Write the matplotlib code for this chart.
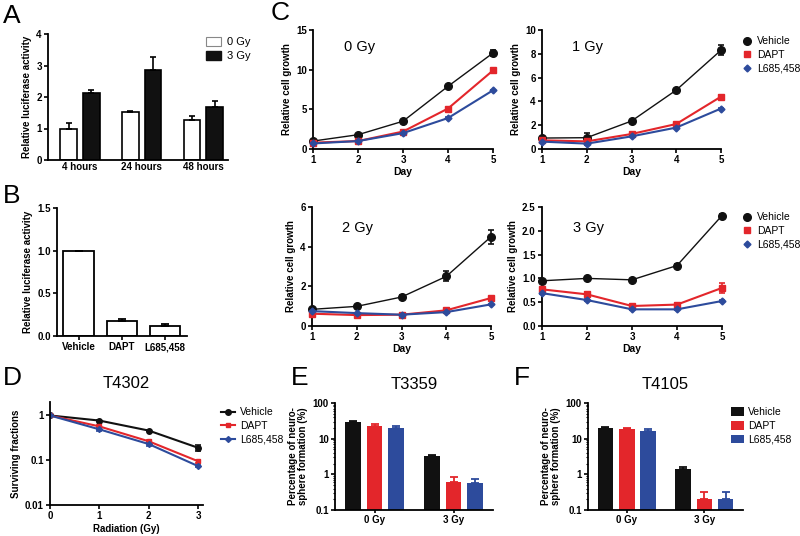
import numpy as np
import matplotlib
matplotlib.use("Agg")
import matplotlib.pyplot as plt
from matplotlib.patches import Patch
from matplotlib.lines import Line2D

plt.rcParams["font.family"] = ["Liberation Sans", "DejaVu Sans"]

# ---- data ----
# panel A
a_groups = ["4 hours", "24 hours", "48 hours"]
a_0gy = [1.0, 1.52, 1.27]
a_0gy_err = [0.18, 0.03, 0.12]
a_3gy = [2.13, 2.87, 1.68]
a_3gy_err = [0.08, 0.40, 0.18]

# panel B
b_drugs = ["Vehicle", "DAPT", "L685,458"]
b_vals = [1.0, 0.18, 0.12]
b_err = [0.0, 0.02, 0.02]

# panel C
days = [1, 2, 3, 4, 5]
c_doses = ["0 Gy", "1 Gy", "2 Gy", "3 Gy"]
veh_c = [[1.0, 1.8, 3.5, 7.9, 12.1],
         [0.92, 0.95, 2.35, 4.95, 8.3],
         [0.84, 0.99, 1.46, 2.5, 4.5],
         [0.95, 1.0, 0.97, 1.27, 2.32]]
veh_c_err = [[0.1, 0.1, 0.15, 0.2, 0.4],
             [0.1, 0.4, 0.1, 0.1, 0.4],
             [0.05, 0.05, 0.1, 0.25, 0.35],
             [0.02, 0.02, 0.02, 0.03, 0.03]]
dapt_c = [[0.8, 1.0, 2.2, 5.1, 9.9],
          [0.73, 0.64, 1.26, 2.1, 4.4],
          [0.62, 0.55, 0.57, 0.79, 1.41],
          [0.77, 0.665, 0.42, 0.45, 0.8]]
dapt_c_err = [[0.05, 0.05, 0.1, 0.1, 0.1],
              [0.05, 0.05, 0.05, 0.05, 0.1],
              [0.03, 0.03, 0.03, 0.05, 0.05],
              [0.02, 0.04, 0.03, 0.03, 0.1]]
l685_c = [[0.7, 1.0, 2.0, 3.9, 7.4],
          [0.62, 0.45, 1.06, 1.8, 3.4],
          [0.75, 0.65, 0.57, 0.7, 1.09],
          [0.69, 0.545, 0.35, 0.35, 0.525]]
l685_c_err = [[0.05, 0.05, 0.05, 0.1, 0.1],
              [0.05, 0.15, 0.05, 0.05, 0.05],
              [0.03, 0.03, 0.03, 0.03, 0.03],
              [0.02, 0.02, 0.02, 0.02, 0.02]]
c_yticks = [[0, 5, 10, 15], [0, 2, 4, 6, 8, 10], [0, 2, 4, 6],
            [0.0, 0.5, 1.0, 1.5, 2.0, 2.5]]

# panel D
radiation = [0, 1, 2, 3]
d_veh = [1.0, 0.77, 0.46, 0.19]
d_veh_err = [0.0, 0.03, 0.02, 0.025]
d_dapt = [1.0, 0.57, 0.265, 0.095]
d_dapt_err = [0.0, 0.03, 0.015, 0.006]
d_l685 = [1.0, 0.49, 0.23, 0.074]
d_l685_err = [0.0, 0.04, 0.02, 0.005]

# panels E and F
ef_groups = ["0 Gy", "3 Gy"]
e_veh = [28.6, 3.3]
e_veh_err = [3.5, 0.25]
e_dapt = [23.0, 0.62]
e_dapt_err = [3.0, 0.24]
e_l685 = [20.0, 0.58]
e_l685_err = [2.5, 0.16]
f_veh = [19.8, 1.39]
f_veh_err = [1.0, 0.18]
f_dapt = [18.3, 0.21]
f_dapt_err = [1.0, 0.11]
f_l685 = [16.0, 0.21]
f_l685_err = [3.0, 0.11]

RED = "#e3262b"
BLUE = "#2d4b9c"
BLACK = "#111111"

W, H = 800, 536
fig = plt.figure(figsize=(8, 5.36), dpi=100)


def px_axes(l, t, r, b):
    return fig.add_axes([l / W, 1 - b / H, (r - l) / W, (b - t) / H])


def style(ax, xtick_len=3):
    for s in ["top", "right"]:
        ax.spines[s].set_visible(False)
    for s in ["left", "bottom"]:
        ax.spines[s].set_linewidth(1.3)
    ax.tick_params(width=1.2, length=3, labelsize=7, pad=1.5)
    ax.tick_params(axis="x", length=xtick_len)
    for lab in ax.get_xticklabels() + ax.get_yticklabels():
        lab.set_fontweight("bold")


def letter(x, y, s):
    fig.text(x / W, 1 - y / H, s, fontsize=19, ha="left", va="top")


# ---- A ----
ax = px_axes(48, 34, 228, 160)
x = np.arange(len(a_groups))
bw = 0.27
ax.bar(x - 0.185, a_0gy, bw, color="white", edgecolor="black", lw=1.2,
       yerr=[[0] * 3, a_0gy_err], capsize=2.5, error_kw=dict(lw=1.2, capthick=1.2))
ax.bar(x + 0.185, a_3gy, bw, color=BLACK, edgecolor="black", lw=1.2,
       yerr=[[0] * 3, a_3gy_err], capsize=2.5, error_kw=dict(lw=1.2, capthick=1.2))
ax.set_xlim(-0.52, 2.4)
ax.set_ylim(0, 4)
ax.set_yticks([0, 1, 2, 3, 4])
ax.set_xticks(x)
ax.set_xticklabels(a_groups)
ax.set_ylabel("Relative luciferase activity", fontsize=7, fontweight="bold", labelpad=3)
style(ax, xtick_len=0)
ax.legend(handles=[Patch(facecolor="white", edgecolor="#888888", lw=0.8, label="0 Gy"),
                   Patch(facecolor=BLACK, edgecolor=BLACK, label="3 Gy")],
          loc="upper left", bbox_to_anchor=(200 / W, 1 - 31 / H), bbox_transform=fig.transFigure,
          frameon=False, fontsize=8, handlelength=1.4, handleheight=0.9,
          handletextpad=0.5, labelspacing=0.35, borderpad=0)
letter(3, 4, "A")

# ---- B ----
ax = px_axes(57, 208, 187, 336)
x = np.arange(len(b_drugs))
ax.bar(x, b_vals, 0.7, color="white", edgecolor="black", lw=1.3,
       yerr=[[0] * 3, b_err], capsize=3, error_kw=dict(lw=1.3, capthick=1.3))
ax.set_xlim(-0.5, 2.5)
ax.set_ylim(0, 1.5)
ax.set_yticks([0.0, 0.5, 1.0, 1.5])
ax.set_yticklabels(["0.0", "0.5", "1.0", "1.5"])
ax.set_xticks(x)
ax.set_xticklabels(b_drugs)
ax.set_ylabel("Relative luciferase activity", fontsize=7, fontweight="bold", labelpad=3)
style(ax)
letter(3, 184, "B")

# ---- C ----
c_boxes = [(313, 30, 493, 149), (542, 30, 721, 149),
           (312, 207, 491, 326), (542, 207, 722, 326)]
c_axes = []
for i, box in enumerate(c_boxes):
    ax = px_axes(*box)
    ax.errorbar(days, veh_c[i], yerr=veh_c_err[i], color=BLACK, lw=1.0, marker="o", ms=5.5,
                capsize=2, elinewidth=1.2, capthick=1.2, clip_on=False, zorder=3)
    ax.errorbar(days, dapt_c[i], yerr=dapt_c_err[i], color=RED, lw=1.5, marker="s", ms=4,
                capsize=2, elinewidth=1.2, capthick=1.2, clip_on=False, zorder=3)
    ax.errorbar(days, l685_c[i], yerr=l685_c_err[i], color=BLUE, lw=1.5, marker="D", ms=3.5,
                capsize=2, elinewidth=1.2, capthick=1.2, clip_on=False, zorder=3)
    ax.set_xlim(1, 5)
    yt = c_yticks[i]
    ax.set_ylim(yt[0], yt[-1])
    ax.set_yticks(yt)
    if i == 3:
        ax.set_yticklabels(["%.1f" % v for v in yt])
    ax.set_xticks(days)
    ax.set_xlabel("Day", fontsize=7.5, fontweight="bold", labelpad=1)
    ax.set_ylabel("Relative cell growth", fontsize=7, fontweight="bold", labelpad=3)
    ax.text(0.17, 0.86 if i < 2 else 0.82, c_doses[i], transform=ax.transAxes,
            fontsize=10.5, ha="left", va="center")
    style(ax)
    c_axes.append(ax)

for ax, ytop in [(c_axes[1], 31), (c_axes[3], 207)]:
    hs = [Line2D([], [], color=BLACK, marker="o", ms=5.5, ls="none"),
          Line2D([], [], color=RED, marker="s", ms=4, ls="none"),
          Line2D([], [], color=BLUE, marker="D", ms=3.5, ls="none")]
    ax.legend(hs, ["Vehicle", "DAPT", "L685,458"], loc="upper left",
              bbox_to_anchor=(737 / W, 1 - ytop / H), bbox_transform=fig.transFigure,
              frameon=False, fontsize=7.5, handlelength=0.9, handletextpad=0.5,
              labelspacing=0.35, borderpad=0)
letter(271, 1, "C")

# ---- D ----
ax = px_axes(50, 402, 203, 505)
ax.errorbar(radiation, d_veh, yerr=d_veh_err, color=BLACK, lw=1.5, marker="o", ms=4,
            capsize=2, elinewidth=1.2, capthick=1.2)
ax.errorbar(radiation, d_dapt, yerr=d_dapt_err, color=RED, lw=1.5, marker="s", ms=3.5,
            capsize=2, elinewidth=1.2, capthick=1.2)
ax.errorbar(radiation, d_l685, yerr=d_l685_err, color=BLUE, lw=1.5, marker="D", ms=3,
            capsize=2, elinewidth=1.2, capthick=1.2)
ax.set_yscale("log")
ax.set_ylim(0.01, 2)
ax.set_xlim(0, 3.1)
ax.set_yticks([0.01, 0.1, 1])
ax.set_yticklabels(["0.01", "0.1", "1"])
ax.yaxis.set_minor_locator(matplotlib.ticker.NullLocator())
ax.set_xticks(radiation)
ax.set_xlabel("Radiation (Gy)", fontsize=7, fontweight="bold", labelpad=2)
ax.set_ylabel("Surviving fractions", fontsize=7, fontweight="bold", labelpad=3)
ax.set_title("T4302", fontsize=12, pad=10)
style(ax)
d_handles = [Line2D([], [], color=BLACK, lw=1.5, marker="o", ms=4),
             Line2D([], [], color=RED, lw=1.5, marker="s", ms=3.5),
             Line2D([], [], color=BLUE, lw=1.5, marker="D", ms=3)]
ax.legend(d_handles, ["Vehicle", "DAPT", "L685,458"], loc="upper left",
          bbox_to_anchor=(216 / W, 1 - 402 / H), bbox_transform=fig.transFigure,
          frameon=False, fontsize=7.5, handlelength=1.3, handletextpad=0.5,
          labelspacing=0.35, borderpad=0)
letter(3, 366, "D")

# ---- E and F ----
def neuro_panel(box, veh, veh_err, dapt, dapt_err, l685, l685_err, title):
    ax = px_axes(*box)
    x = np.arange(len(ef_groups))
    for off, vals, err, col, lab in [(-0.275, veh, veh_err, BLACK, "Vehicle"),
                                     (0.0, dapt, dapt_err, RED, "DAPT"),
                                     (0.275, l685, l685_err, BLUE, "L685,458")]:
        ax.bar(x + off, vals, 0.2, color=col, label=lab,
               yerr=[[0] * len(vals), err], capsize=3, ecolor=col,
               error_kw=dict(lw=1.3, capthick=1.3))
    ax.set_yscale("log")
    ax.set_ylim(0.1, 100)
    ax.set_xlim(-0.5, 1.5)
    ax.set_yticks([0.1, 1, 10, 100])
    ax.set_yticklabels(["0.1", "1", "10", "100"])
    ax.set_xticks(x)
    ax.set_xticklabels(ef_groups)
    ax.set_ylabel("Percentage of neuro-\nsphere formation (%)", fontsize=7,
                  fontweight="bold", labelpad=3, linespacing=1.1)
    ax.set_title(title, fontsize=12, pad=10)
    style(ax, xtick_len=2)
    ax.tick_params(axis="y", which="minor", length=1.8, width=0.8)
    return ax


neuro_panel((335, 403, 493, 510), e_veh, e_veh_err, e_dapt, e_dapt_err,
            e_l685, e_l685_err, "T3359")
letter(291, 366, "E")
ax = neuro_panel((588, 403, 743, 510), f_veh, f_veh_err, f_dapt, f_dapt_err,
                 f_l685, f_l685_err, "T4105")
ax.legend(loc="upper left", bbox_to_anchor=(726 / W, 1 - 402 / H), bbox_transform=fig.transFigure,
          frameon=False, fontsize=7.5, handlelength=1.2, handleheight=0.9, handletextpad=0.4,
          labelspacing=0.35, borderpad=0)
letter(514, 366, "F")

fig.savefig("out.png", dpi=100)
